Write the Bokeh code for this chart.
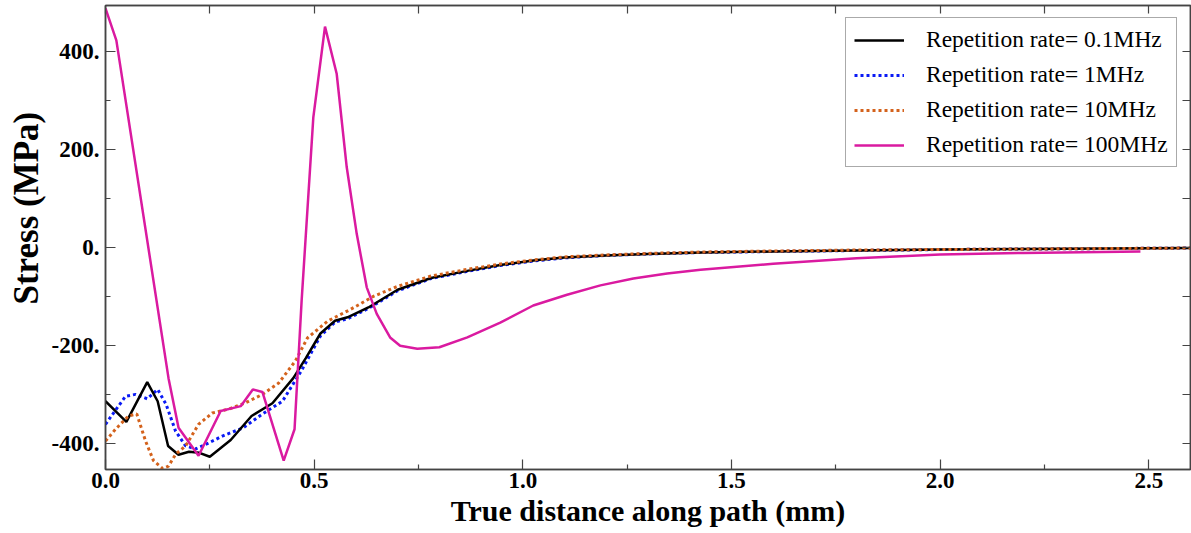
from bokeh.plotting import figure
from bokeh.models import (LinearAxis, FixedTicker, PrintfTickFormatter, Legend,
                          LegendItem, Range1d, Title)
from bokeh.embed import file_html
from bokeh.resources import INLINE

# Stress along the path for four pulse repetition rates
x_01mhz = [0.0, 0.05, 0.10, 0.125, 0.15, 0.175, 0.20, 0.225, 0.25, 0.30, 0.35, 0.40,
           0.45, 0.48, 0.515, 0.55, 0.58, 0.63, 0.70, 0.78, 0.87, 0.95, 1.03, 1.10,
           1.20, 1.30, 1.43, 1.60, 1.80, 2.00, 2.20, 2.40, 2.60]
s_01mhz = [-313, -355, -274, -313, -404, -422, -416, -418, -426, -392, -343, -317,
           -266, -225, -175, -149, -142, -122, -86, -62, -47, -35, -26, -20,
           -16, -13, -10, -8, -6, -4, -3, -2, -1]

x_1mhz = [0.0, 0.025, 0.048, 0.072, 0.10, 0.125, 0.145, 0.168, 0.192, 0.216, 0.247,
          0.28, 0.33, 0.376, 0.424, 0.47, 0.515, 0.55, 0.58, 0.63, 0.70, 0.78, 0.87,
          0.95, 1.03, 1.10, 1.20, 1.30, 1.43, 1.60, 1.80, 2.00, 2.20, 2.40, 2.60]
s_1mhz = [-360, -330, -303, -299, -308, -289, -319, -374, -404, -410, -398,
          -384, -367, -339, -313, -250, -180, -152, -145, -124, -88, -63, -48,
          -36, -27, -21, -16, -13, -10, -8, -6, -4, -3, -2, -1]

x_10mhz = [0.0, 0.024, 0.055, 0.075, 0.096, 0.115, 0.137, 0.151, 0.168, 0.192, 0.223,
           0.256, 0.295, 0.336, 0.376, 0.415, 0.455, 0.484, 0.532, 0.587, 0.643, 0.70,
           0.78, 0.87, 0.95, 1.03, 1.10, 1.20, 1.30, 1.43, 1.60, 1.80, 2.00, 2.20,
           2.40, 2.60]
s_10mhz = [-394, -370, -343, -339, -394, -434, -450, -445, -421, -404, -360,
           -337, -329, -316, -299, -276, -231, -184, -150, -126, -99, -79,
           -58, -44, -33, -25, -19, -15, -12, -9, -7, -5, -4, -3, -2, -1]

x_100mhz = [0.0, 0.026, 0.151, 0.175, 0.223, 0.276, 0.324, 0.353, 0.376, 0.427, 0.453,
            0.470, 0.498, 0.526, 0.554, 0.578, 0.602, 0.626, 0.650, 0.682, 0.706, 0.747,
            0.80, 0.867, 0.946, 1.025, 1.106, 1.186, 1.265, 1.346, 1.426, 1.60, 1.80,
            2.00, 2.20, 2.48]
s_100mhz = [487, 422, -266, -367, -424, -333, -323, -289, -294, -434, -370,
            -108, 265, 450, 354, 164, 28, -81, -135, -183, -200, -206,
            -203, -183, -153, -118, -96, -77, -63, -53, -45, -33, -22,
            -14, -11, -8]

labels = ["Repetition rate= 0.1MHz", "Repetition rate= 1MHz",
          "Repetition rate= 10MHz", "Repetition rate= 100MHz"]

x_ticks = [0.0, 0.5, 1.0, 1.5, 2.0, 2.5]
x_minor = [0.25, 0.75, 1.25, 1.75, 2.25]
y_ticks = [-400, -200, 0, 200, 400]
y_minor = [-300, -100, 100, 300]

SERIF = "Liberation Serif"
FRAME = "#444444"

p = figure(width=1191, height=533, output_backend="svg", toolbar_location=None,
           x_range=Range1d(0, 2.6), y_range=Range1d(-452, 493),
           min_border_left=105, min_border_right=1, min_border_top=5,
           min_border_bottom=64)
p.grid.visible = False
p.outline_line_color = FRAME
p.outline_line_width = 1.5
p.background_fill_color = "white"
p.border_fill_color = "white"

r_blue = p.line(x_1mhz, s_1mhz, line_color="#0A1AF5", line_width=3, line_dash="3 3")
r_black = p.line(x_01mhz, s_01mhz, line_color="black", line_width=2.5)
r_orange = p.line(x_10mhz, s_10mhz, line_color="#D4621C", line_width=3, line_dash="3 3")
r_mag = p.line(x_100mhz, s_100mhz, line_color="#DA1AA0", line_width=2.5)


def frame_axis(ax):
    ax.axis_line_color = FRAME
    ax.axis_line_width = 1.5
    ax.major_tick_line_color = FRAME
    ax.minor_tick_line_color = FRAME
    ax.major_tick_line_width = 1.2
    ax.minor_tick_line_width = 1.2
    ax.major_tick_out = 0
    ax.minor_tick_out = 0


def labelled_axis(ax, ticks, minor, fmt, standoff):
    frame_axis(ax)
    ax.ticker = FixedTicker(ticks=ticks, minor_ticks=minor)
    ax.formatter = PrintfTickFormatter(format=fmt)
    ax.major_tick_in = 10
    ax.minor_tick_in = 5
    ax.major_label_text_font = SERIF
    ax.major_label_text_font_style = "bold"
    ax.major_label_text_font_size = "23px"
    ax.major_label_text_color = "black"
    ax.major_label_standoff = standoff


def mirror_axis(ax, ticks, minor):
    # opposite side of the box: tick marks only, no labels
    frame_axis(ax)
    ax.ticker = FixedTicker(ticks=[], minor_ticks=sorted(ticks + minor))
    ax.minor_tick_in = 8
    ax.major_label_standoff = 0
    ax.axis_label = None


xa = p.xaxis[0]
labelled_axis(xa, x_ticks, x_minor, "%.1f", 3)
xa.axis_label = "True distance along path (mm)"
xa.axis_label_text_font = SERIF
xa.axis_label_text_font_style = "bold"
xa.axis_label_text_font_size = "30px"
xa.axis_label_text_color = "black"
xa.axis_label_standoff = 3

ya = p.yaxis[0]
labelled_axis(ya, y_ticks, y_minor, "%d.", 6)
ya.axis_label = None

top_ax = LinearAxis()
mirror_axis(top_ax, x_ticks, x_minor)
p.add_layout(top_ax, "above")

right_ax = LinearAxis()
mirror_axis(right_ax, y_ticks, y_minor)
p.add_layout(right_ax, "right")

# vertical title for the stress axis, anchored from the bottom of the frame
y_title = Title(text="Stress (MPa)", align="left", offset=165,
                text_font=SERIF, text_font_style="bold", text_font_size="35px",
                text_color="black", standoff=6)
p.add_layout(y_title, "left")

legend = Legend(items=[LegendItem(label=labels[0], renderers=[r_black]),
                       LegendItem(label=labels[1], renderers=[r_blue]),
                       LegendItem(label=labels[2], renderers=[r_orange]),
                       LegendItem(label=labels[3], renderers=[r_mag])],
                location=(740, 302))
legend.margin = 0
legend.padding = 8
legend.spacing = 8
legend.glyph_width = 50
legend.glyph_height = 24
legend.label_height = 24
legend.label_standoff = 22
legend.label_text_font = SERIF
legend.label_text_font_size = "23.5px"
legend.label_text_color = "black"
legend.border_line_color = "#555555"
legend.border_line_width = 1
legend.background_fill_color = "white"
legend.background_fill_alpha = 1
p.add_layout(legend)

open("out.html", "w").write(file_html(p, INLINE))
